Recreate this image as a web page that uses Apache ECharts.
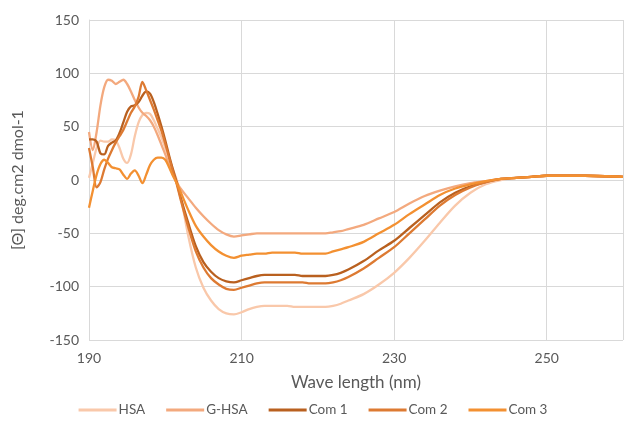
<!DOCTYPE html>
<html>
<head>
<meta charset="utf-8">
<script src="https://cdn.jsdelivr.net/npm/echarts@6/dist/echarts.min.js"></script>
<style>
html,body{margin:0;padding:0;background:#fff;}
#c{width:626px;height:425px;}
</style>
</head>
<body>
<div id="c"></div>
<script>
const wavelength = [190,190.5,191,191.5,192,192.5,193,193.5,194,194.5,195,195.5,196,196.5,197,197.5,198,198.5,199,199.5,200,200.5,201,201.5,202,
203,204,205,206,207,208,209,210,211,212,213,214,215,216,217,218,219,220,221,222,223,224,
226,228,230,232,234,236,238,240,242,244,246,248,250,255,260];

const seriesNames = ["HSA","G-HSA","Com 1","Com 2","Com 3"];

const hsa = [2,16,30,37,36,36,38,37,30,20,16,24,41,54,61,63,62,56,48,40,30,20,10,0,-14,
-52,-82,-101,-113,-121,-125,-126,-124,-121,-119,-118,-118,-118,-118,-119,-119,-119,-119,-119,-118,-116,-113,
-107,-98,-87,-73,-57,-40,-24,-12,-4,0,2,3,4,4,3];

const gHsa = [45,28,45,70,87,94,93,90,92,94,90,83,75,68,63,60,56,50,42,33,24,14,5,-2,-8,
-17,-26,-34,-41,-47,-51,-53,-52,-51,-50,-50,-50,-50,-50,-50,-50,-50,-50,-50,-49,-48,-46,
-42,-36,-30,-22,-15,-10,-6,-3,-1,1,2,3,4,4,3];

const com1 = [38,38,36,25,24,32,35,37,44,54,64,69,70,73,79,83,81,73,62,50,37,23,10,-2,-16,
-40,-62,-77,-86,-92,-95,-96,-94,-92,-90,-89,-89,-89,-89,-89,-90,-90,-90,-90,-89,-87,-84,
-76,-66,-57,-45,-33,-21,-12,-6,-2,1,2,3,4,4,3];

const com2 = [30,12,-7,-2,10,20,28,35,41,47,55,63,69,78,92,84,75,66,56,46,34,21,8,-4,-18,
-44,-67,-82,-92,-98,-102,-103,-101,-99,-97,-96,-96,-96,-96,-96,-96,-97,-97,-97,-96,-94,-91,
-83,-73,-63,-50,-37,-24,-14,-7,-2,1,2,3,4,4,3];

const com3 = [-26,-10,5,15,19,16,12,11,10,5,1,6,9,4,-3,5,14,19,21,21,19,12,4,-3,-11,
-28,-43,-53,-61,-67,-71,-73,-71,-70,-69,-69,-68,-68,-68,-68,-69,-69,-69,-69,-67,-65,-63,
-58,-50,-42,-32,-23,-14,-8,-4,-1,1,2,3,4,4,3];

const xTicks = {min:190, max:260, interval:20};
const yTicks = {min:-150, max:150, interval:50};

const values = [hsa, gHsa, com1, com2, com3];
const colors = ['#F9C8AA','#F3A97E','#B9601F','#DD7A32','#F39031'];

const chart = echarts.init(document.getElementById('c'));
const font = 'Lato, "Open Sans", sans-serif';
chart.setOption({
  animation:false,
  backgroundColor:'#fff',
  textStyle:{fontFamily:font},
  color: colors,
  grid:{left:89, right:-2, top:20, bottom:85, containLabel:false},
  legend:{
    bottom:3, left:'center',
    itemWidth:38, itemHeight:3, itemGap:21,
    icon:'rect',
    textStyle:{color:'#595959', fontSize:13.5, fontFamily:font, padding:[0,0,0,-3]},
    data: seriesNames
  },
  xAxis:{
    type:'value', min:xTicks.min, max:xTicks.max, interval:xTicks.interval,
    name:'Wave length (nm)', nameLocation:'middle', nameGap:34,
    nameTextStyle:{color:'#595959', fontSize:17, fontFamily:font},
    axisLine:{show:false}, axisTick:{show:false},
    axisLabel:{color:'#595959', fontSize:14, margin:11, fontFamily:font,
      formatter:v => (v===260 ? '' : String(v))},
    splitLine:{show:true, lineStyle:{color:'#d9d9d9', width:1}}
  },
  yAxis:{
    type:'value', min:yTicks.min, max:yTicks.max, interval:yTicks.interval,
    name:'[Θ] deg.cm2 dmol-1', nameLocation:'middle', nameGap:63,
    nameTextStyle:{color:'#595959', fontSize:16, fontFamily:font},
    axisLine:{show:true, lineStyle:{color:'#d9d9d9'}}, axisTick:{show:false},
    axisLabel:{color:'#595959', fontSize:14, margin:10, fontFamily:font},
    splitLine:{show:true, lineStyle:{color:'#d9d9d9', width:1}}
  },
  series: seriesNames.map((name, i) => ({
    name: name,
    type:'line',
    smooth:0.3,
    showSymbol:false,
    symbol:'none',
    lineStyle:{width:2.3, color:colors[i]},
    itemStyle:{color:colors[i]},
    data: wavelength.map((w, j) => [w, values[i][j]])
  }))
});
</script>
</body>
</html>
